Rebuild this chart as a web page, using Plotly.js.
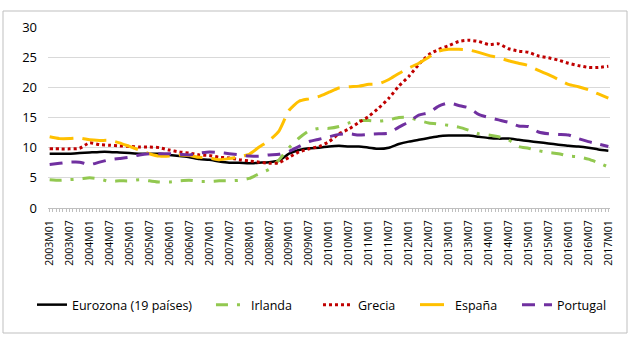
<!DOCTYPE html>
<html>
<head>
<meta charset="utf-8">
<script src="https://cdn.plot.ly/plotly-3.0.1.min.js"></script>
<style>
  html, body { margin: 0; padding: 0; background: #ffffff; }
  #chart { width: 635px; height: 340px; }
</style>
</head>
<body>
<div id="chart"></div>
<script>
// Quarterly sample points (monthly axis)
const sampleMonths = [
  "2003M01","2003M04","2003M07","2003M10","2004M01","2004M04","2004M07","2004M10",
  "2005M01","2005M04","2005M07","2005M10","2006M01","2006M04","2006M07","2006M10",
  "2007M01","2007M04","2007M07","2007M10","2008M01","2008M04","2008M07","2008M10",
  "2009M01","2009M04","2009M07","2009M10","2010M01","2010M04","2010M07","2010M10",
  "2011M01","2011M04","2011M07","2011M10","2012M01","2012M04","2012M07","2012M10",
  "2013M01","2013M04","2013M07","2013M10","2014M01","2014M04","2014M07","2014M10",
  "2015M01","2015M04","2015M07","2015M10","2016M01","2016M04","2016M07","2016M10",
  "2017M01"
];

// Unemployment rate (%)
const eurozona = [
  9.0, 9.0, 9.0, 9.1, 9.2, 9.3, 9.3, 9.2, 9.1, 9.0, 9.0, 9.0, 8.8, 8.6, 8.4, 8.1,
  8.0, 7.7, 7.5, 7.5, 7.4, 7.5, 7.6, 7.9, 9.0, 9.6, 9.9, 10.0, 10.2, 10.3, 10.2, 10.2,
  10.0, 9.8, 10.0, 10.6, 11.0, 11.3, 11.6, 11.9, 12.0, 12.0, 12.0, 11.8, 11.6, 11.5, 11.5, 11.3,
  11.1, 10.9, 10.7, 10.5, 10.3, 10.2, 10.0, 9.7, 9.5
];
const irlanda = [
  4.7, 4.6, 4.7, 4.8, 5.0, 4.8, 4.4, 4.5, 4.5, 4.7, 4.5, 4.3, 4.3, 4.5, 4.6, 4.4,
  4.4, 4.5, 4.5, 4.6, 4.9, 5.7, 6.4, 8.0, 10.0, 11.6, 12.8, 13.2, 13.2, 13.5, 14.1, 14.5,
  14.5, 14.4, 14.6, 15.0, 15.0, 14.5, 14.1, 13.9, 13.7, 13.4, 12.9, 12.3, 12.1, 11.8, 11.3, 10.2,
  9.9, 9.5, 9.2, 9.0, 8.6, 8.5, 8.1, 7.5, 6.8
];
const grecia = [
  9.8, 9.8, 9.8, 9.9, 10.8, 10.5, 10.4, 10.3, 10.2, 10.1, 10.1, 10.0, 9.6, 9.3, 9.1, 8.8,
  8.7, 8.4, 8.3, 8.0, 7.8, 7.6, 7.4, 7.5, 8.4, 9.3, 9.8, 10.2, 11.0, 12.3, 13.1, 14.2,
  15.2, 16.6, 18.2, 20.2, 21.8, 23.8, 25.4, 26.3, 26.9, 27.6, 27.8, 27.6, 27.1, 27.2, 26.4, 26.0,
  25.8, 25.2, 24.9, 24.5, 24.0, 23.6, 23.3, 23.3, 23.5
];
const espana = [
  11.8, 11.5, 11.5, 11.6, 11.3, 11.2, 11.2, 10.8, 10.2, 9.6, 9.0, 8.6, 8.6, 8.8, 8.7, 8.4,
  8.3, 8.0, 8.2, 8.5, 8.9, 10.1, 11.2, 12.8, 16.2, 17.7, 18.1, 18.5, 19.2, 19.9, 20.1, 20.2,
  20.5, 20.6, 21.3, 22.3, 23.2, 24.0, 25.0, 26.0, 26.3, 26.3, 26.2, 25.8, 25.3, 24.9, 24.4, 24.0,
  23.6, 22.8, 22.1, 21.3, 20.5, 20.1, 19.6, 18.9, 18.2
];
const portugal = [
  7.2, 7.4, 7.6, 7.6, 7.2, 7.6, 8.0, 8.2, 8.4, 8.8, 9.0, 9.0, 9.0, 8.9, 8.8, 9.1,
  9.3, 9.2, 9.0, 8.8, 8.6, 8.6, 8.8, 8.9, 9.4, 10.2, 11.0, 11.4, 11.8, 12.2, 12.3, 12.1,
  12.2, 12.3, 12.4, 13.4, 14.3, 15.4, 15.8, 16.9, 17.4, 17.0, 16.6, 15.5, 15.0, 14.6, 14.2, 13.6,
  13.5, 12.6, 12.3, 12.2, 12.1, 11.5, 11.0, 10.6, 10.2
];

// Axis labels, every six months
const tickLabels = [
  "2003M01","2003M07","2004M01","2004M07","2005M01","2005M07","2006M01","2006M07",
  "2007M01","2007M07","2008M01","2008M07","2009M01","2009M07","2010M01","2010M07",
  "2011M01","2011M07","2012M01","2012M07","2013M01","2013M07","2014M01","2014M07",
  "2015M01","2015M07","2016M01","2016M07","2017M01"
];

const seriesNames = ["Eurozona (19 países)", "Irlanda", "Grecia", "España", "Portugal"];

// "YYYYMmm" -> months since the first period
const baseYear = 2003;
function monthIndex(label) {
  const y = parseInt(label.slice(0, 4), 10);
  const m = parseInt(label.slice(5), 10);
  return (y - baseYear) * 12 + (m - 1);
}

const xs = sampleMonths.map(monthIndex);
const lastMonth = monthIndex(tickLabels[tickLabels.length - 1]);

// one tick per month; text only on the labelled months
const labelAt = {};
tickLabels.forEach(l => { labelAt[monthIndex(l)] = l; });
const tickvals = [], ticktext = [];
for (let i = 0; i <= lastMonth; i++) {
  tickvals.push(i);
  ticktext.push(labelAt[i] !== undefined ? labelAt[i] : "");
}

const styles = [
  { color: "#000000", width: 2.5, dash: "solid" },
  { color: "#92C850", width: 3, dash: "12px,9px,3px,9px" },
  { color: "#C00000", width: 3, dash: "3px,3px" },
  { color: "#FFC000", width: 3, dash: "24px,9px" },
  { color: "#7030A0", width: 3, dash: "13px,9px" }
];
const values = [eurozona, irlanda, grecia, espana, portugal];

// each series gets its own legend box so the entries sit on one spaced row
const legendIds = ["legend", "legend2", "legend3", "legend4", "legend5"];
const legendX = [-0.0285, 0.290, 0.4804, 0.653, 0.8345];

const traces = values.map((v, i) => ({
  type: "scatter",
  mode: "lines",
  name: seriesNames[i],
  legend: legendIds[i],
  x: xs,
  y: v,
  line: { color: styles[i].color, width: styles[i].width, dash: styles[i].dash, shape: "spline", smoothing: 0.6 },
  hoverinfo: "skip"
}));

const family = "'Open Sans', sans-serif";

const layout = {
  width: 635,
  height: 340,
  margin: { l: 48, r: 25, t: 27, b: 132 },
  paper_bgcolor: "#ffffff",
  plot_bgcolor: "#ffffff",
  font: { family: family, size: 12, color: "#000000" },
  showlegend: true,
  xaxis: {
    range: [-0.5, lastMonth + 0.5],
    tickmode: "array",
    tickvals: tickvals,
    ticktext: ticktext,
    tickangle: -90,
    ticks: "outside",
    ticklen: 3,
    tickcolor: "#BFBFBF",
    ticklabelstandoff: 4,
    tickfont: { family: family, size: 10.5, color: "#000000" },
    showgrid: false,
    zeroline: false,
    showline: true,
    linecolor: "#BFBFBF",
    linewidth: 1,
    fixedrange: true
  },
  yaxis: {
    range: [0, 30],
    dtick: 5,
    tick0: 0,
    showgrid: true,
    gridcolor: "#D9D9D9",
    gridwidth: 1,
    zeroline: false,
    showline: false,
    ticks: "",
    ticklabelstandoff: 10,
    tickfont: { family: family, size: 13, color: "#000000" },
    fixedrange: true
  },
  shapes: [{
    type: "rect", xref: "paper", yref: "paper",
    x0: -45 / 562, x1: 1 + 17 / 562, y0: -125 / 181, y1: 1 + 16 / 181,
    line: { color: "#BFBFBF", width: 1 }
  }]
};

legendIds.forEach((id, i) => {
  layout[id] = {
    orientation: "h",
    x: legendX[i], xanchor: "left",
    y: -0.536, yanchor: "middle",
    bgcolor: "rgba(0,0,0,0)",
    borderwidth: 0,
    font: { family: family, size: 12.5, color: "#000000" }
  };
});

Plotly.newPlot("chart", traces, layout, { displayModeBar: false, staticPlot: true });
</script>
</body>
</html>
